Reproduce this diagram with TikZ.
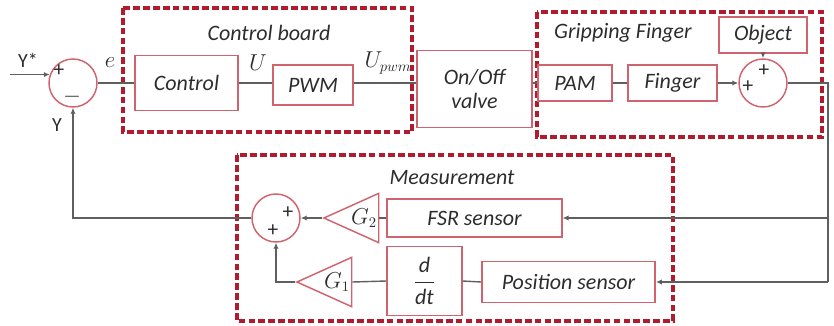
\documentclass[tikz,border=0pt]{standalone}
\usepackage{amsmath}
\usepackage{fontspec}
\setmainfont{Carlito}
\usetikzlibrary{positioning, arrows.meta, shapes.geometric}

\definecolor{boxred}{RGB}{208,100,110}
\definecolor{framered}{RGB}{176,28,46}
\definecolor{wire}{RGB}{95,95,95}
\definecolor{ink}{RGB}{45,45,45}

\begin{document}
\begin{tikzpicture}[
    x=0.75pt, y=-0.75pt,
    >={Latex[length=4.5pt, width=4pt]},
    every node/.style={font=\fontsize{16.5}{18}\selectfont\itshape, text=ink},
    block/.style={
        draw=boxred, line width=1.1pt, align=center, inner sep=2pt
    },
    sumjunc/.style={
        draw=boxred, line width=1.1pt, circle, minimum size=36pt, inner sep=0pt
    },
    gain/.style={
        draw=boxred, line width=1.1pt, isosceles triangle,
        isosceles triangle stretches, shape border rotate=180,
        minimum width=37pt, minimum height=41pt, inner sep=1pt,
        font=\fontsize{16}{18}\selectfont
    },
    groupframe/.style={
        draw=framered, line width=2.6pt, dash pattern=on 5pt off 2.4pt
    },
    wireline/.style={draw=wire, line width=1.05pt},
    sign/.style={font=\fontsize{16}{16}\selectfont, inner sep=0pt},
    siglabel/.style={font=\fontsize{16}{18}\selectfont, inner sep=0pt},
]
\useasboundingbox (0,0) rectangle (834,325);

% =====================================================================
%  FORWARD PATH
% =====================================================================
\draw[groupframe] (123,8) rectangle (412,132);
\node (boardtitle) at (269,33) {Control board};

\draw[groupframe] (537,12) rectangle (822,137);
\node (fingertitle) at (623,33) {Gripping Finger};

% Error junction
\node[sumjunc] (sum1) at (73,83) {};
\node[sign] (sum1p) at (59,71) {+};
\node[sign] (sum1m) at (72,97) {$-$};
\coordinate (yref) at ([xshift=-30pt]sum1.160);
\node[siglabel, font=\fontsize{15}{16}\selectfont] (yreflab) at (28,60) {Y*};
\node[siglabel] (elab) at (110,63) {$e$};

% Controller and actuation chain
\node[block, minimum width=77pt, minimum height=41pt] (ctrl) at (186.5,83) {Control};
\node[block, minimum width=60pt, minimum height=30pt] (pwm) at (313,85) {PWM};
\node[siglabel] (ulab) at (258,63) {$U$};
\node[siglabel] (upwmlab) at (388,63) {$U_{pwm}$};
\node[block, minimum width=86pt, minimum height=58pt] (valve) at (474.5,89) {On/Off\\valve};

\node[block, minimum width=55.5pt, minimum height=27pt] (pam) at (575,83) {PAM};
\node[block, minimum width=67pt, minimum height=27pt] (finger) at (672.5,83) {Finger};
\node[block, minimum width=66pt, minimum height=27pt] (object) at (763,35) {Object};

% Contact junction
\node[sumjunc] (sum2) at (763,83) {};
\node[sign] (sum2l) at (748,87) {+};
\node[sign] (sum2t) at (764,71) {+};

\draw[wireline, ->] (yref) -- (sum1.160);
\draw[wireline] (sum1.east) -- (ctrl.west);
\draw[wireline] (ctrl.east) -- (ctrl.east -| pwm.west);
\draw[wireline] (ctrl.east -| pwm.east) -- (ctrl.east -| valve.west);
\draw[wireline] (ctrl.east -| valve.east) -- (pam.west);
\draw[wireline] (pam.east) -- (finger.west);
\draw[wireline, ->] (finger.east) -- (sum2.west);
\draw[wireline, ->] (object.south) -- (sum2.north);

% =====================================================================
%  MEASUREMENT PATH
% =====================================================================
\draw[groupframe] (237,155) rectangle (673,321);
\node (meastitle) at (452,178) {Measurement};

\node[sumjunc] (sum3) at (276,218) {};
\node[sign] (sum3r) at (288,213) {+};
\node[sign] (sum3b) at (273,231) {+};

\node[gain, anchor=apex] (g2) at (322,218) {$G_2$};
\node[gain, anchor=apex] (g1) at (295,282) {$G_1$};

\node[block, minimum width=131pt, minimum height=28.5pt] (fsr) at (474.5,218) {FSR sensor};
\node[block, minimum width=56pt, minimum height=52pt] (ddt) at (424.5,281) {$\dfrac{\textit{d}}{\textit{dt}}$};
\node[block, minimum width=130pt, minimum height=31pt] (possens) at (568.5,282) {Position sensor};

% Output take-off points
\coordinate (outtop) at (828,83);
\coordinate (outfsr) at (828,218);
\coordinate (outpos) at (828,282);

\draw[wireline] (sum2.east) -- (outtop) -- (outpos);
\draw[wireline, ->] (outfsr) -- (fsr.east);
\draw[wireline, ->] (outpos) -- (possens.east);
\draw[wireline] (fsr.west) -- (g2.lower side);
\draw[wireline] (possens.west) -- (ddt.east);
\draw[wireline] (ddt.west) -- (g1.lower side);
\draw[wireline, ->] (g2.apex) -- (sum3.east);
\draw[wireline, ->] (g1.apex) -| (sum3.south);

% Feedback
\draw[wireline, ->] (sum3.west) -| (sum1.south);
\node[siglabel, font=\fontsize{15}{16}\selectfont] (ylab) at (57,125) {Y};

\end{tikzpicture}
\end{document}
